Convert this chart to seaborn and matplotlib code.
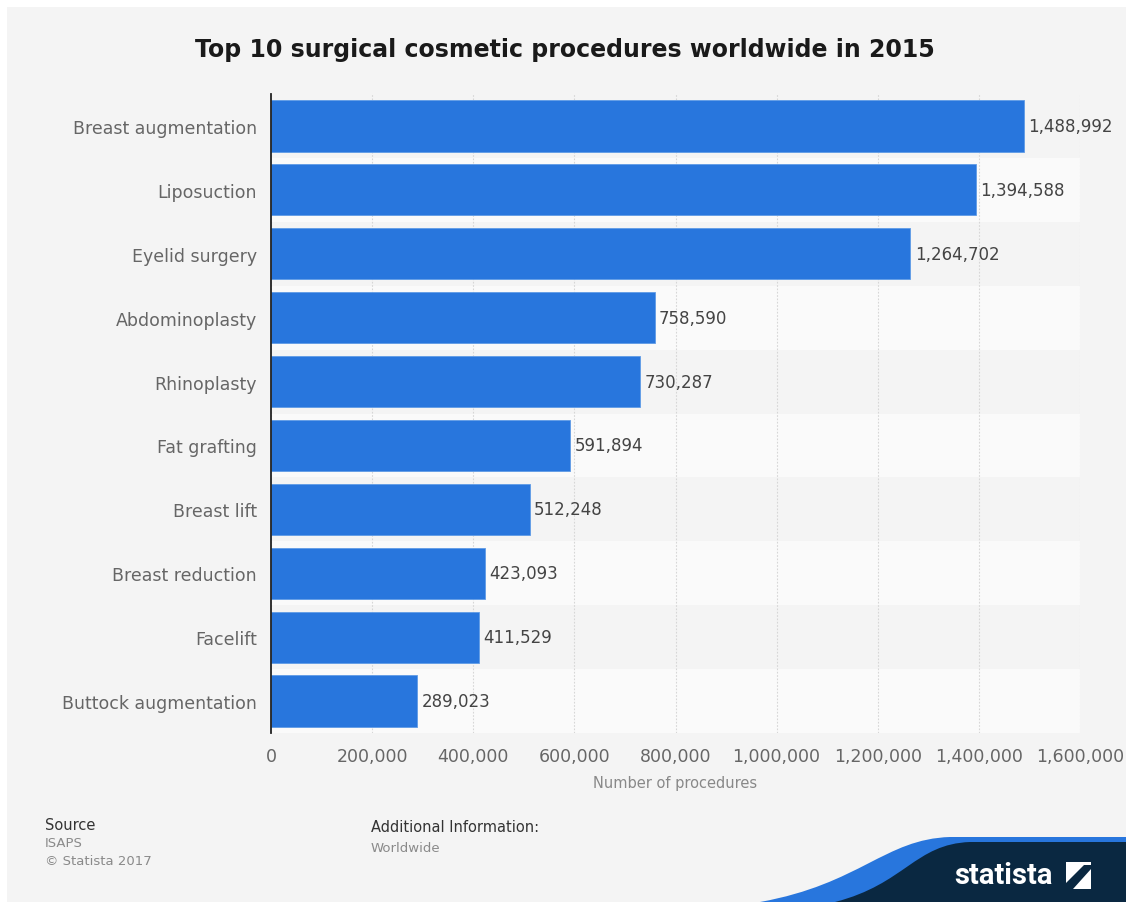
import matplotlib
matplotlib.use('Agg')
import matplotlib.pyplot as plt
import matplotlib.patches as mpatches
from matplotlib.path import Path
import pandas as pd
import seaborn as sns

# Chart data
procedures = ['Breast augmentation', 'Liposuction', 'Eyelid surgery', 'Abdominoplasty',
              'Rhinoplasty', 'Fat grafting', 'Breast lift', 'Breast reduction',
              'Facelift', 'Buttock augmentation']
counts = [1488992, 1394588, 1264702, 758590, 730287, 591894, 512248, 423093, 411529, 289023]
x_ticks = [0, 200000, 400000, 600000, 800000, 1000000, 1200000, 1400000, 1600000]

df = pd.DataFrame({'Procedure': procedures, 'Count': counts})

sns.set_style('white')
plt.rcParams['font.family'] = ['DejaVu Sans']
plt.rcParams['font.sans-serif'] = ['DejaVu Sans']

W, H = 1126, 903
fig = plt.figure(figsize=(W / 100, H / 100), dpi=100, facecolor='white')

# gray card background
fig.patches.append(mpatches.Rectangle((7 / W, 0), 1, 1 - 8 / H, transform=fig.transFigure,
                                      facecolor='#f4f4f4', edgecolor='none', zorder=-5))

ax = fig.add_axes([271 / W, 1 - 734 / H, 809 / W, (734 - 95) / H])
ax.set_facecolor('#f4f4f4')

# alternating row bands
for i in range(len(procedures)):
    if i % 2 == 1:
        ax.axhspan(i - 0.5, i + 0.5, color='#fafafa', zorder=0, lw=0)

sns.barplot(data=df, x='Count', y='Procedure', orient='h', color='#2876dd',
            width=0.8, saturation=1, edgecolor='#5f9be6', linewidth=0.6, ax=ax, zorder=3)

ax.set_xlim(0, 1600000)
ax.set_ylim(len(procedures) - 0.5, -0.5)
ax.set_xticks(x_ticks)
ax.set_xticklabels([f'{t:,}' for t in x_ticks])
ax.grid(axis='x', color='#d6d6d6', linestyle=(0, (1.5, 1.5)), linewidth=0.8, zorder=1)
ax.set_axisbelow(True)

for s in ['top', 'right', 'bottom']:
    ax.spines[s].set_visible(False)
ax.spines['left'].set_color('#222222')
ax.spines['left'].set_linewidth(1.3)
ax.spines['left'].set_zorder(5)

ax.tick_params(axis='y', length=0, pad=10, labelsize=12.5, labelcolor='#666666')
ax.tick_params(axis='x', length=0, pad=10, labelsize=12.5, labelcolor='#666666')

ax.set_ylabel('')
ax.set_xlabel('Number of procedures', fontsize=10.5, color='#888888', labelpad=7)

ax.bar_label(ax.containers[0], labels=[f'{v:,}' for v in counts], padding=3,
             fontsize=12, color='#444444')

fig.text(565 / W, 1 - 50 / H, 'Top 10 surgical cosmetic procedures worldwide in 2015',
         ha='center', va='center', fontsize=17, fontweight='bold', color='#1a1a1a',
         family='DejaVu Sans')

# footer
fig.text(45 / W, 1 - 826 / H, 'Source', fontsize=10.5, color='#333333', va='center')
fig.text(45 / W, 1 - 844 / H, 'ISAPS', fontsize=9.5, color='#8a8a8a', va='center')
fig.text(45 / W, 1 - 862 / H, '\u00a9 Statista 2017', fontsize=9.5, color='#8a8a8a', va='center')
fig.text(371 / W, 1 - 828 / H, 'Additional Information:', fontsize=10.5, color='#333333', va='center')
fig.text(371 / W, 1 - 849 / H, 'Worldwide', fontsize=9.5, color='#8a8a8a', va='center')


# statista logo shape
def fig_path(pts, codes):
    return Path([(x / W, 1 - y / H) for x, y in pts], codes)


blue = fig_path([(760, 903), (860, 885), (885, 840), (950, 838), (1126, 838), (1126, 903), (760, 903)],
                [Path.MOVETO, Path.CURVE4, Path.CURVE4, Path.CURVE4, Path.LINETO, Path.LINETO, Path.CLOSEPOLY])
navy = fig_path([(835, 903), (905, 885), (915, 845), (970, 843), (1126, 843), (1126, 903), (835, 903)],
                [Path.MOVETO, Path.CURVE4, Path.CURVE4, Path.CURVE4, Path.LINETO, Path.LINETO, Path.CLOSEPOLY])
fig.patches.append(mpatches.PathPatch(blue, transform=fig.transFigure, facecolor='#2876dd',
                                      edgecolor='none', zorder=1))
fig.patches.append(mpatches.PathPatch(navy, transform=fig.transFigure, facecolor='#0a2841',
                                      edgecolor='none', zorder=2))
fig.text(1004 / W, 1 - 876 / H, 'statista', ha='center', va='center', fontsize=21,
         fontweight='bold', color='white', family=['Roboto', 'DejaVu Sans'], zorder=3)
fig.patches.append(mpatches.Rectangle((1066 / W, 1 - 890 / H), 25 / W, 27 / H, transform=fig.transFigure,
                                      facecolor='white', edgecolor='none', zorder=3))
icon = fig_path([(1066, 884), (1084, 866), (1091, 866), (1091, 870), (1073, 890), (1066, 890), (1066, 884)],
                [Path.MOVETO, Path.LINETO, Path.LINETO, Path.LINETO, Path.LINETO, Path.LINETO, Path.CLOSEPOLY])
fig.patches.append(mpatches.PathPatch(icon, transform=fig.transFigure, facecolor='#0a2841',
                                      edgecolor='none', zorder=4))

fig.savefig('out.png', dpi=100, facecolor='white')
